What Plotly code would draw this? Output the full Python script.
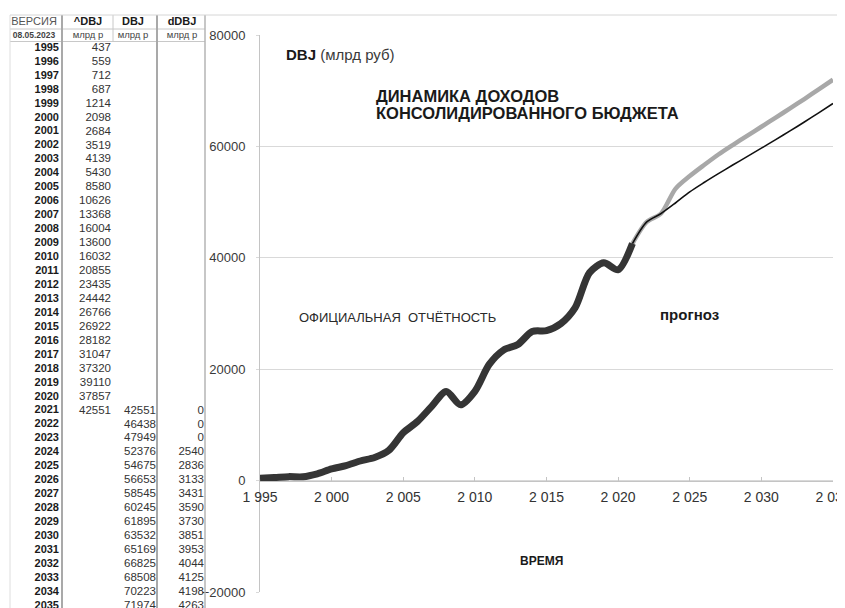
import plotly.graph_objects as go

# ---------------- data ----------------
years_hist = list(range(1995, 2022))
dbj_hist = [437, 559, 712, 687, 1214, 2098, 2684, 3519, 4139, 5430, 8580, 10626,
            13368, 16004, 13600, 16032, 20855, 23435, 24442, 26766, 26922, 28182,
            31047, 37320, 39110, 37857, 42551]
years_fc = list(range(2021, 2036))
dbj_fc = [42551, 46438, 47949, 52376, 54675, 56653, 58545, 60245, 61895, 63532,
          65169, 66825, 68508, 70223, 71974]
ddbj_fc = [0, 0, 0, 2540, 2836, 3133, 3431, 3590, 3730, 3851, 3953, 4044, 4125,
           4198, 4263]
table_years = list(range(1995, 2036))
col_headers = ["ВЕРСИЯ", "^DBJ", "DBJ", "dDBJ"]
col_units = ["08.05.2023", "млрд р", "млрд р", "млрд р"]
x_tickvals = [1995, 2000, 2005, 2010, 2015, 2020, 2025, 2030, 2035]
x_ticktext = ["1 995", "2 000", "2 005", "2 010", "2 015", "2 020", "2 025", "2 030", "2 035"]
y_tickvals = [-20000, 0, 20000, 40000, 60000, 80000]

dbj_low = [a - b for a, b in zip(dbj_fc, ddbj_fc)]

# ---------------- layout constants ----------------
OFF = 8                      # page body margin of the html page
W, H = 845 - OFF, 608 - OFF
ML, MR, MT, MB = 0, 12, 15 - OFF, 0
PW, PH = W - ML - MR, H - MT - MB
FONT = "Liberation Sans, Arial, sans-serif"


def pfy(py):  # screen pixel y -> paper fraction
    return (H - MB - (py - OFF)) / PH


def pfx(px):  # screen pixel x -> paper fraction
    return (px - OFF - ML) / PW


ROW0, ROWH = 48.0, 13.95


def ry(py):  # screen pixel y -> table row units
    return (py - ROW0) / ROWH


yd0, yd1 = pfy(592), pfy(35)
xaxis_pos = yd0 + 0.2 * (yd1 - yd0)

fig = go.Figure()

# ---------------- chart lines ----------------
fig.add_trace(go.Scatter(x=years_fc, y=dbj_fc, mode="lines", line=dict(color="#a8a8a8", width=4.5, shape="spline", smoothing=0.8),
                         hoverinfo="skip", showlegend=False))
fig.add_trace(go.Scatter(x=years_hist, y=dbj_hist, mode="lines", line=dict(color="#353535", width=7, shape="spline", smoothing=0.8),
                         hoverinfo="skip", showlegend=False))
fig.add_trace(go.Scatter(x=years_fc, y=dbj_low, mode="lines", line=dict(color="#111111", width=1.6, shape="spline", smoothing=0.8),
                         hoverinfo="skip", showlegend=False))

# ---------------- table (text on secondary axes) ----------------
idx_all = list(range(len(table_years)))
tf_year = dict(family=FONT, size=11, color="#1a1a1a", weight="bold")
tf_val = dict(family=FONT, size=11.5, color="#333333")

fig.add_trace(go.Scatter(x=[59] * len(table_years), y=idx_all, text=[str(v) for v in table_years],
                         mode="text", textposition="middle left", textfont=tf_year, cliponaxis=False,
                         xaxis="x2", yaxis="y2", hoverinfo="skip", showlegend=False))
fig.add_trace(go.Scatter(x=[111] * len(years_hist), y=[table_years.index(v) for v in years_hist],
                         text=[str(v) for v in dbj_hist], mode="text", textposition="middle left",
                         textfont=tf_val, cliponaxis=False,
                         xaxis="x2", yaxis="y2", hoverinfo="skip", showlegend=False))
fig.add_trace(go.Scatter(x=[156] * len(years_fc), y=[table_years.index(v) for v in years_fc],
                         text=[str(v) for v in dbj_fc], mode="text", textposition="middle left",
                         textfont=tf_val, cliponaxis=False,
                         xaxis="x2", yaxis="y2", hoverinfo="skip", showlegend=False))
fig.add_trace(go.Scatter(x=[204] * len(years_fc), y=[table_years.index(v) for v in years_fc],
                         text=[str(v) for v in ddbj_fc], mode="text", textposition="middle left",
                         textfont=tf_val, cliponaxis=False,
                         xaxis="x2", yaxis="y2", hoverinfo="skip", showlegend=False))

head_x = [34, 88, 133, 182]
fig.add_trace(go.Scatter(x=head_x, y=[ry(22.5)] * 4, text=col_headers, mode="text",
                         textposition="middle center", cliponaxis=False,
                         textfont=dict(family=FONT, size=11, color=["#555555", "#1a1a1a", "#1a1a1a", "#1a1a1a"],
                                       weight=["normal", "bold", "bold", "bold"]),
                         xaxis="x2", yaxis="y2", hoverinfo="skip", showlegend=False))
fig.add_trace(go.Scatter(x=head_x, y=[ry(35.5)] * 4, text=col_units, mode="text",
                         textposition="middle center", cliponaxis=False,
                         textfont=dict(family=FONT, size=[8.5, 9.5, 9.5, 9.5], color="#444444",
                                       weight=["bold", "normal", "normal", "normal"]),
                         xaxis="x2", yaxis="y2", hoverinfo="skip", showlegend=False))

shapes = []
# table horizontal lines
for py, col in [(29, "#c8c8c8"), (41.5, "#c8c8c8")]:
    shapes.append(dict(type="line", xref="x2", yref="y2", x0=10, x1=205, y0=ry(py), y1=ry(py),
                       line=dict(color=col, width=1)))
# table vertical lines
for px, col, wd, y1 in [(10, "#dedede", 1, 608), (62, "#a9a9a9", 2, 608), (113, "#c8c8c8", 1, 41.5),
                        (157, "#a9a9a9", 2, 608), (205, "#b5b5b5", 1.5, 608)]:
    shapes.append(dict(type="line", xref="x2", yref="y2", x0=px, x1=px, y0=ry(15), y1=ry(y1),
                       line=dict(color=col, width=wd)))
# top frame line
shapes.append(dict(type="line", xref="paper", yref="paper", x0=pfx(10), x1=pfx(845), y0=pfy(15), y1=pfy(15),
                   line=dict(color="#d6d6d6", width=1)))

# ---------------- annotations ----------------
def dx(px):
    return 1995 + (px - 260) / 14.325


def dy(py):
    return (481.5 - py) * 100000 / 557


ann = [
    dict(x=dx(284), y=dy(55), text="<b>DBJ</b> <span style='color:#3a3a3a'>(млрд руб)</span>",
         font=dict(family=FONT, size=15, color="#1a1a1a")),
    dict(x=dx(374), y=dy(97), text="<b>ДИНАМИКА ДОХОДОВ</b>", font=dict(family=FONT, size=16.5, color="#1a1a1a")),
    dict(x=dx(374), y=dy(113.5), text="<b>КОНСОЛИДИРОВАННОГО БЮДЖЕТА</b>", font=dict(family=FONT, size=16.5, color="#1a1a1a")),
    dict(x=dx(297), y=dy(318), text="ОФИЦИАЛЬНАЯ\u00a0\u00a0ОТЧЁТНОСТЬ", font=dict(family=FONT, size=13, color="#2a2a2a")),
    dict(x=dx(658), y=dy(315), text="<b>прогноз</b>", font=dict(family=FONT, size=15, color="#1a1a1a")),
    dict(x=dx(518), y=dy(562), text="<b>ВРЕМЯ</b>", font=dict(family=FONT, size=12, color="#1a1a1a")),
]
for a in ann:
    a.update(xref="x", yref="y", xanchor="left", yanchor="middle", showarrow=False)

fig.update_layout(
    width=W, height=H,
    margin=dict(l=ML, r=MR, t=MT, b=MB, autoexpand=False),
    paper_bgcolor="white", plot_bgcolor="white",
    font=dict(family=FONT, color="#333333"),
    showlegend=False,
    shapes=shapes,
    annotations=ann,
    xaxis=dict(domain=[pfx(260), 1], range=[1995, 2035], anchor="free", position=xaxis_pos,
               automargin=False,
               showgrid=False, zeroline=False, showline=True, linecolor="#c4c4c4", linewidth=1,
               ticks="inside", ticklen=4, tickcolor="#c4c4c4", tickvals=x_tickvals, ticktext=x_ticktext,
               tickfont=dict(family=FONT, size=14, color="#333333"), ticklabelstandoff=4,
               ticklabeloverflow="allow"),
    yaxis=dict(domain=[yd0, yd1], range=[-20000, 80000], anchor="x", tickvals=y_tickvals, tickformat="d",
               automargin=False,
               showgrid=True, gridcolor="#d9d9d9", gridwidth=1, zeroline=False,
               showline=True, linecolor="#c4c4c4", linewidth=1,
               ticks="outside", ticklen=3, tickcolor="#d9d9d9",
               tickfont=dict(family=FONT, size=13, color="#3a3a3a"), ticklabelstandoff=8),
    xaxis2=dict(domain=[0, pfx(260)], range=[OFF, 260], anchor="y2", visible=False, fixedrange=True,
                automargin=False),
    yaxis2=dict(domain=[0, 1], range=[ry(608), ry(15)], anchor="x2", visible=False, fixedrange=True,
                automargin=False),
)

fig.write_html("out.html")
